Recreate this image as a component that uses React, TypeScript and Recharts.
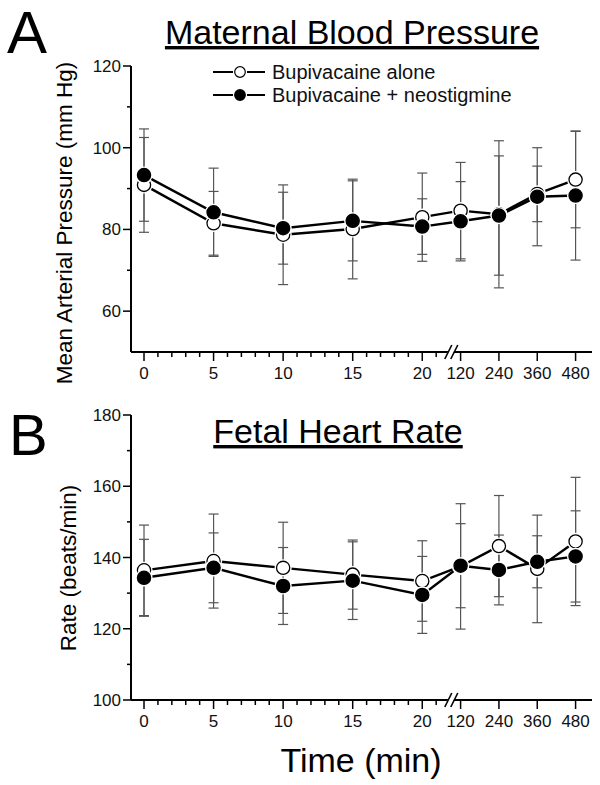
import React from 'react';
import { LineChart, Line, XAxis, YAxis, ErrorBar, Legend } from 'recharts';

const FONT = "'Liberation Sans', Arial, Helvetica, sans-serif";

// ---- categories / tick labels ----
const times = [0, 5, 10, 15, 20, 120, 240, 360, 480];
const timeLabels = ['0', '5', '10', '15', '20', '120', '240', '360', '480'];
const minorMinutes = [1, 2, 3, 4, 6, 7, 8, 9, 11, 12, 13, 14, 16, 17, 18, 19, 21];
const seriesNames = ['Bupivacaine alone', 'Bupivacaine + neostigmine'];

// ---- Panel A: maternal mean arterial pressure (mm Hg) ----
const mapAlone = [90.9, 81.5, 78.7, 80.1, 83.0, 84.6, 83.7, 88.7, 92.2];
const mapAloneSD = [11.6, 7.8, 12.2, 12.2, 10.8, 11.8, 18.0, 6.8, 11.8];
const mapNeo = [93.3, 84.2, 80.3, 82.1, 80.7, 82.0, 83.4, 88.0, 88.3];
const mapNeoSD = [11.3, 10.8, 8.8, 9.8, 6.8, 9.7, 14.6, 12.0, 15.8];
const mapMajorTicks = [60, 80, 100, 120];
const mapMinorTicks = [70, 90, 110];

// ---- Panel B: fetal heart rate (beats/min) ----
const fhrAlone = [136.4, 139.0, 137.1, 135.2, 133.4, 137.5, 143.2, 136.8, 144.5];
const fhrAloneSD = [12.7, 13.2, 12.8, 9.7, 11.3, 17.6, 14.2, 15.1, 18.0];
const fhrNeo = [134.3, 137.1, 132.0, 133.5, 129.5, 137.7, 136.5, 138.8, 140.3];
const fhrNeoSD = [10.8, 9.8, 10.8, 10.9, 10.8, 11.8, 9.8, 7.3, 12.8];
const fhrMajorTicks = [100, 120, 140, 160, 180];
const fhrMinorTicks = [110, 130, 150, 170];

// ---- broken time axis ----
const EARLY_END = 20;
const LATE_STEP = 2.755; // axis units per 120-min step after the break
const BREAK_AT = 22.12;
const axisPos = (t: number) => (t <= EARLY_END ? t : EARLY_END + (t / 120) * LATE_STEP);
const X_DOMAIN: [number, number] = [-0.935, 32.2];
const majorPositions = times.map(axisPos);
const xTicks = [...majorPositions, ...minorMinutes, BREAK_AT].sort((a, b) => a - b);

const makeRows = (a: number[], aSD: number[], n: number[], nSD: number[]) =>
  times.map((t, i) => ({ pos: axisPos(t), alone: a[i], aloneErr: aSD[i], neo: n[i], neoErr: nSD[i] }));

const mapRows = makeRows(mapAlone, mapAloneSD, mapNeo, mapNeoSD);
const fhrRows = makeRows(fhrAlone, fhrAloneSD, fhrNeo, fhrNeoSD);

const XTick = (props: any) => {
  const { x, y, payload } = props;
  const v = payload.value;
  if (v === BREAK_AT) {
    return (
      <g>
        <polygon points={`${x - 5},${y + 2} ${x + 1},${y + 2} ${x + 3},${y - 2} ${x - 3},${y - 2}`} fill="#fff" />
        <line x1={x - 7} y1={y + 7} x2={x} y2={y - 7} stroke="#000" strokeWidth={1.6} />
        <line x1={x - 1} y1={y + 7} x2={x + 6} y2={y - 7} stroke="#000" strokeWidth={1.6} />
      </g>
    );
  }
  const idx = majorPositions.indexOf(v);
  const major = idx >= 0;
  return (
    <g>
      <line x1={x} y1={y} x2={x} y2={y + (major ? 9 : 5)} stroke="#000" strokeWidth={1.5} />
      {major && (
        <text x={x} y={y + 27} textAnchor="middle" fontFamily={FONT} fontSize={17} fill="#111">
          {timeLabels[idx]}
        </text>
      )}
    </g>
  );
};

const makeYTick = (majors: number[]) => (props: any) => {
  const { x, y, payload } = props;
  const major = majors.includes(payload.value);
  return (
    <g>
      <line x1={x - (major ? 8 : 4)} y1={y} x2={x} y2={y} stroke="#000" strokeWidth={1.5} />
      {major && (
        <text x={x - 10} y={y + 6} textAnchor="end" fontFamily={FONT} fontSize={17} fill="#111">
          {payload.value}
        </text>
      )}
    </g>
  );
};

const Marker = ({ cx, cy, filled }: { cx: number; cy: number; filled: boolean }) => (
  <g>
    <circle cx={cx} cy={cy} r={8.6} fill="#fff" />
    <circle cx={cx} cy={cy} r={6.6} fill={filled ? '#000' : '#fff'} stroke="#000" strokeWidth={1.3} />
  </g>
);

const LegendBox = () => (
  <svg width={340} height={50} style={{ overflow: 'visible' }}>
    {seriesNames.map((name, i) => {
      const cy = 14 + i * 23;
      return (
        <g key={name}>
          <line x1={8} y1={cy} x2={28} y2={cy} stroke="#000" strokeWidth={2} />
          <line x1={42} y1={cy} x2={60} y2={cy} stroke="#000" strokeWidth={2} />
          <circle cx={35} cy={cy} r={5.3} fill={i === 0 ? '#fff' : '#000'} stroke="#000" strokeWidth={1.2} />
          <text x={67} y={cy + 7} fontFamily={FONT} fontSize={20} fill="#111">
            {name}
          </text>
        </g>
      );
    })}
  </svg>
);

type PanelProps = {
  rows: any[];
  domain: [number, number];
  majors: number[];
  minors: number[];
  height: number;
  marginTop: number;
  xAxisHeight: number;
  legend?: boolean;
};

const Panel = ({ rows, domain, majors, minors, height, marginTop, xAxisHeight, legend }: PanelProps) => (
  <LineChart width={600} height={height} data={rows} margin={{ top: marginTop, right: 8, left: 0, bottom: 0 }}>
    <XAxis
      dataKey="pos"
      type="number"
      domain={X_DOMAIN}
      allowDataOverflow
      ticks={xTicks}
      interval={0}
      tickSize={0}
      tickMargin={0}
      tickLine={false}
      tick={<XTick />}
      height={xAxisHeight}
      axisLine={{ stroke: '#000', strokeWidth: 2 }}
    />
    <YAxis
      type="number"
      domain={domain}
      allowDataOverflow
      ticks={[...majors, ...minors].sort((a, b) => a - b)}
      interval={0}
      tickSize={0}
      tickMargin={0}
      tickLine={false}
      tick={makeYTick(majors)}
      width={131}
      axisLine={{ stroke: '#000', strokeWidth: 2 }}
    />
    <Line dataKey="alone" stroke="none" dot={false} activeDot={false} legendType="none" isAnimationActive={false}>
      <ErrorBar dataKey="aloneErr" width={5} stroke="#555" strokeWidth={1.2} isAnimationActive={false} />
    </Line>
    <Line dataKey="neo" stroke="none" dot={false} activeDot={false} legendType="none" isAnimationActive={false}>
      <ErrorBar dataKey="neoErr" width={5} stroke="#555" strokeWidth={1.2} isAnimationActive={false} />
    </Line>
    <Line
      dataKey="alone"
      name={seriesNames[0]}
      stroke="#000"
      strokeWidth={2.4}
      activeDot={false}
      isAnimationActive={false}
      dot={(p: any) => <Marker key={`a${p.index}`} cx={p.cx} cy={p.cy} filled={false} />}
    />
    <Line
      dataKey="neo"
      name={seriesNames[1]}
      stroke="#000"
      strokeWidth={2.4}
      activeDot={false}
      isAnimationActive={false}
      dot={(p: any) => <Marker key={`n${p.index}`} cx={p.cx} cy={p.cy} filled />}
    />
    {legend && (
      <Legend
        layout="horizontal"
        verticalAlign="middle"
        align="center"
        content={() => <LegendBox />}
        wrapperStyle={{ position: 'absolute', left: 205, top: 58, width: 340, height: 50 }}
      />
    )}
  </LineChart>
);

export default function App() {
  return (
    <div style={{ position: 'absolute', left: 0, top: 0, width: 600, height: 785, background: '#fff' }}>
      <div style={{ position: 'absolute', left: 0, top: 0 }}>
        <Panel rows={mapRows} domain={[50, 120]} majors={mapMajorTicks} minors={mapMinorTicks} height={390} marginTop={66} xAxisHeight={38} legend />
      </div>
      <div style={{ position: 'absolute', left: 0, top: 390 }}>
        <Panel rows={fhrRows} domain={[100, 180]} majors={fhrMajorTicks} minors={fhrMinorTicks} height={395} marginTop={25} xAxisHeight={85} />
      </div>
      <svg width={600} height={785} style={{ position: 'absolute', left: 0, top: 0, pointerEvents: 'none' }} fontFamily={FONT} fill="#000">
        <text x={7} y={53} fontSize={60}>A</text>
        <text x={352} y={44} fontSize={34} textAnchor="middle" style={{ textDecoration: 'underline' }}>Maternal Blood Pressure</text>
        <text x={9} y={455} fontSize={58}>B</text>
        <text x={338} y={443} fontSize={34} textAnchor="middle" style={{ textDecoration: 'underline' }}>Fetal Heart Rate</text>
        <text x={361} y={772} fontSize={34} textAnchor="middle">Time (min)</text>
        <text x={72} y={223} fontSize={22.5} textAnchor="middle" transform="rotate(-90 72 223)">Mean Arterial Pressure (mm Hg)</text>
        <text x={76} y={568} fontSize={22.5} textAnchor="middle" transform="rotate(-90 76 568)">Rate (beats/min)</text>
      </svg>
    </div>
  );
}
